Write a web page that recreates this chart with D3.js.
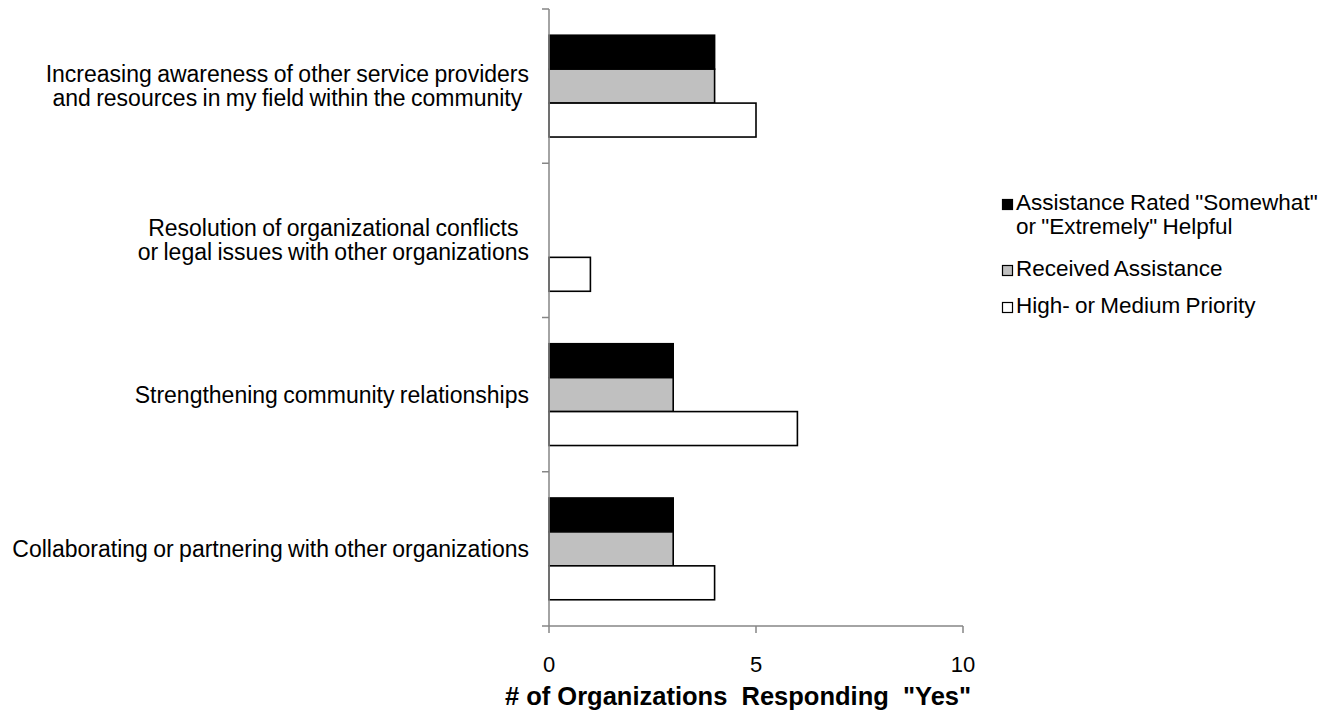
<!DOCTYPE html>
<html>
<head>
<meta charset="utf-8">
<script src="https://cdn.jsdelivr.net/npm/d3@7"></script>
<style>
  html, body { margin: 0; padding: 0; background: #fff; }
  svg { display: block; font-family: "Liberation Sans", Arial, sans-serif; }
</style>
</head>
<body>
<svg id="chart" width="1340" height="721"></svg>
<script>
// Categories, top to bottom; each label may span several lines
const categories = [
  "Increasing awareness",
  "Resolution of conflicts",
  "Strengthening relationships",
  "Collaborating or partnering"
];
const categoryLines = [
  ["Increasing awareness of other service providers", "and resources in my field within the community"],
  ["Resolution of organizational conflicts", "or legal issues with other organizations"],
  ["Strengthening community relationships"],
  ["Collaborating or partnering with other organizations"]
];

// Series values, one per category
const seriesNames = ["Helpful", "Received", "Priority"];
const helpfulValues  = [4, 0, 3, 3];
const receivedValues = [4, 0, 3, 3];
const priorityValues = [5, 1, 6, 4];

const legendLines = [
  ["Assistance Rated \"Somewhat\"", "or \"Extremely\" Helpful"],
  ["Received Assistance"],
  ["High- or Medium Priority"]
];
const xTicks = [0, 5, 10];
const xTitle = "# of Organizations  Responding  \"Yes\"";

const seriesValues = [helpfulValues, receivedValues, priorityValues];
const fills = ["#000000", "#c0c0c0", "#ffffff"];

const svg = d3.select("#chart");
const axisColor = "#868686";

const x = d3.scaleLinear().domain([0, 10]).range([549, 963]);
const y = d3.scaleBand().domain(categories).range([9, 626])
  .paddingInner(0.34).paddingOuter(0.17);
const ySub = d3.scaleBand().domain(seriesNames).range([0, y.bandwidth()]);

// Bars
const rows = categories.map((c, i) => ({ c, vals: seriesValues.map(s => s[i]) }));
const groups = svg.append("g").selectAll("g").data(rows).join("g")
  .attr("transform", d => `translate(0,${y(d.c)})`);
groups.selectAll("rect")
  .data(d => d.vals.map((v, k) => ({ v, k })).filter(e => e.v > 0))
  .join("rect")
  .attr("x", x(0))
  .attr("y", e => ySub(seriesNames[e.k]))
  .attr("width", e => x(e.v) - x(0))
  .attr("height", ySub.bandwidth())
  .attr("fill", e => fills[e.k])
  .attr("stroke", "#000")
  .attr("stroke-width", 1.6);

// Value axis (bottom)
const step = y.step();
const gx = svg.append("g").attr("transform", "translate(0,626)");
gx.append("line").attr("x1", x(0)).attr("x2", x(10)).attr("stroke", axisColor).attr("stroke-width", 1.5);
gx.selectAll("line.t").data(xTicks).join("line").attr("class", "t")
  .attr("x1", d => x(d)).attr("x2", d => x(d)).attr("y1", 0).attr("y2", 7)
  .attr("stroke", axisColor).attr("stroke-width", 1.5);
gx.selectAll("text").data(xTicks).join("text")
  .attr("x", d => x(d)).attr("y", 46)
  .attr("text-anchor", "middle")
  .attr("font-size", 22).attr("fill", "#000")
  .text(d => d);

// Category axis (left)
const gy = svg.append("g");
gy.append("line").attr("x1", x(0)).attr("x2", x(0)).attr("y1", 9).attr("y2", 626)
  .attr("stroke", axisColor).attr("stroke-width", 1.5);
const yTickPos = d3.range(categories.length + 1).map(i => 9 + i * step);
gy.selectAll("line.t").data(yTickPos).join("line").attr("class", "t")
  .attr("x1", x(0) - 7).attr("x2", x(0)).attr("y1", d => d).attr("y2", d => d)
  .attr("stroke", axisColor).attr("stroke-width", 1.5);

// Category labels: block right-aligned, lines centered within the block
const lineH = 24;
categories.forEach((c, i) => {
  const lines = categoryLines[i];
  const cy = y(c) + y.bandwidth() / 2;
  const g = gy.append("g");
  const texts = g.selectAll("text").data(lines).join("text")
    .attr("font-size", 23).attr("fill", "#000")
    .attr("text-anchor", "middle")
    .attr("word-spacing", -1)
    .attr("y", (d, j) => cy + (j - (lines.length - 1) / 2) * lineH + 8)
    .text(d => d);
  let maxW = 0;
  texts.each(function () { maxW = Math.max(maxW, this.getComputedTextLength()); });
  texts.attr("x", 529 - maxW / 2);
});

// Axis title
svg.append("text")
  .attr("x", 738).attr("y", 705)
  .attr("text-anchor", "middle")
  .attr("font-size", 25.5).attr("font-weight", "bold")
  .attr("xml:space", "preserve").style("white-space", "pre")
  .text(xTitle);

// Legend
const legendY = [210, 276, 313];
const lg = svg.append("g");
legendLines.forEach((lines, k) => {
  lg.append("rect")
    .attr("x", 1002.5).attr("y", legendY[k] - 10.5)
    .attr("width", 10).attr("height", 10)
    .attr("fill", fills[k]).attr("stroke", "#000").attr("stroke-width", 1.2);
  lines.forEach((t, j) => {
    lg.append("text")
      .attr("x", 1016).attr("y", legendY[k] + j * 24)
      .attr("font-size", 22.5).attr("fill", "#000")
      .attr("word-spacing", -1)
      .text(t);
  });
});
</script>
</body>
</html>
